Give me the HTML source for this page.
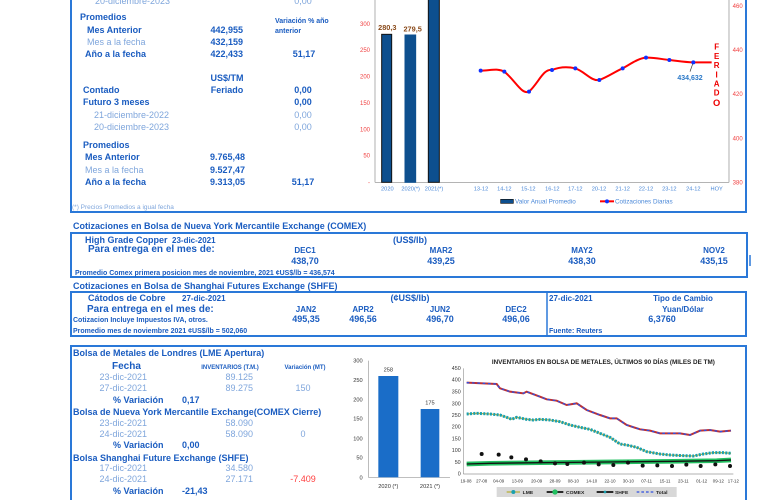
<!DOCTYPE html>
<html><head><meta charset="utf-8"><style>
html,body{margin:0;padding:0;background:#fff;}
svg{display:block;font-family:"Liberation Sans",sans-serif;}
.d{fill:#1a5cc0;font-weight:bold;font-size:9px;}
.l{fill:#7fa6dc;font-size:9px;}
.s{fill:#1a5cc0;font-size:7px;font-weight:bold;}
.m{text-anchor:middle}.e{text-anchor:end}
</style></head><body>
<svg width="780" height="500" viewBox="0 0 780 500" xmlns="http://www.w3.org/2000/svg">
<!-- top panel borders -->
<line x1="71" y1="0" x2="71" y2="212" stroke="#2a78d8" stroke-width="2"/>
<line x1="70" y1="212" x2="747" y2="212" stroke="#2a78d8" stroke-width="2"/>
<line x1="746" y1="0" x2="746" y2="212" stroke="#2a78d8" stroke-width="2"/>
<!-- left text -->
<text class="l" x="95" y="4">20-diciembre-2023</text><text class="l m" x="303" y="4">0,00</text>
<text class="d" x="80" y="20">Promedios</text>
<text class="d" x="87" y="33">Mes Anterior</text><text class="d e" x="243" y="33">442,955</text>
<text class="s" x="275" y="23">Variación % año</text><text class="s" x="275" y="33">anterior</text>
<text class="l" x="87" y="45">Mes a la fecha</text><text class="d e" x="243" y="45">432,159</text>
<text class="d" x="85" y="57">Año a la fecha</text><text class="d e" x="243" y="57">422,433</text><text class="d m" x="304" y="57">51,17</text>
<text class="d m" x="227" y="81">US$/TM</text>
<text class="d" x="83" y="93">Contado</text><text class="d m" x="227" y="93">Feriado</text><text class="d m" x="303" y="93">0,00</text>
<text class="d" x="83" y="105">Futuro 3 meses</text><text class="d m" x="303" y="105">0,00</text>
<text class="l" x="94" y="118">21-diciembre-2022</text><text class="l m" x="303" y="118">0,00</text>
<text class="l" x="94" y="130">20-diciembre-2023</text><text class="l m" x="303" y="130">0,00</text>
<text class="d" x="83" y="148">Promedios</text>
<text class="d" x="85" y="160">Mes Anterior</text><text class="d e" x="245" y="160">9.765,48</text>
<text class="l" x="85" y="173">Mes a la fecha</text><text class="d e" x="245" y="173">9.527,47</text>
<text class="d" x="85" y="185">Año a la fecha</text><text class="d e" x="245" y="185">9.313,05</text><text class="d m" x="303" y="185">51,17</text>
<text x="72" y="209" style="fill:#7fa6dc;font-size:6.5px">(*) Precios Promedios a igual  fecha</text>

<!-- top chart (zoom coords) -->
<g transform="translate(350,0) scale(0.33333)">
<line x1="75" y1="0" x2="75" y2="547" stroke="#888" stroke-width="2"/>
<line x1="1137" y1="0" x2="1137" y2="547" stroke="#888" stroke-width="2"/>
<line x1="75" y1="547" x2="1137" y2="547" stroke="#888" stroke-width="2"/>
<g style="fill:#f04040;font-size:18px" text-anchor="end">
<text x="60" y="78">300</text><text x="60" y="156">250</text><text x="60" y="235">200</text><text x="60" y="315">150</text><text x="60" y="394">100</text><text x="60" y="473">50</text><text x="60" y="553">-</text></g>
<g style="fill:#f04040;font-size:18px">
<text x="1148" y="24">460</text><text x="1148" y="156">440</text><text x="1148" y="288">420</text><text x="1148" y="421">400</text><text x="1148" y="553">380</text></g>
<rect x="95" y="103" width="30" height="444" fill="#0d4f8e" stroke="#111" stroke-width="3"/>
<rect x="165" y="105" width="32" height="442" fill="#0d4f8e" stroke="#0d4f8e" stroke-width="3"/>
<rect x="235" y="-5" width="33" height="552" fill="#0d4f8e" stroke="#111" stroke-width="3"/>
<text x="112" y="90" style="fill:#8a4a1a;font-size:22px;font-weight:bold" text-anchor="middle">280,3</text>
<text x="188" y="94" style="fill:#8a4a1a;font-size:22px;font-weight:bold" text-anchor="middle">279,5</text>
<path d="M392,212 C430,210 445,205 463,215 C495,240 515,285 537,275 C565,250 580,205 606,210 C630,200 655,200 676,205 C705,215 725,245 748,240 C775,230 795,215 818,205 C845,190 865,175 888,173 C915,172 935,178 958,180 C985,183 1005,187 1030,187 L1085,187" fill="none" stroke="#ff0000" stroke-width="6"/>
<g fill="#1030ff">
<circle cx="392" cy="212" r="6"/><circle cx="463" cy="215" r="6"/><circle cx="537" cy="275" r="6"/><circle cx="606" cy="210" r="6"/><circle cx="676" cy="205" r="6"/><circle cx="748" cy="240" r="6"/><circle cx="818" cy="205" r="6"/><circle cx="888" cy="173" r="6"/><circle cx="958" cy="180" r="6"/><circle cx="1030" cy="187" r="6"/></g>
<line x1="1028" y1="192" x2="1020" y2="215" stroke="#333" stroke-width="2"/>
<text x="1020" y="240" style="fill:#2a78c8;font-size:21px;font-weight:bold" text-anchor="middle">434,632</text>
<g style="fill:#ee0000;font-size:24px;font-weight:bold" text-anchor="middle">
<text x="1100" y="148">F</text><text x="1100" y="177">E</text><text x="1100" y="204">R</text><text x="1100" y="232">I</text><text x="1100" y="259">A</text><text x="1100" y="286">D</text><text x="1100" y="318" style="font-size:28px">O</text></g>
<g style="fill:#4a88d8;font-size:17px" text-anchor="middle">
<text x="112" y="572">2020</text><text x="182" y="572">2020(*)</text><text x="252" y="572">2021(*)</text>
<text x="393" y="572">13-12</text><text x="463" y="572">14-12</text><text x="535" y="572">15-12</text><text x="607" y="572">16-12</text><text x="676" y="572">17-12</text><text x="747" y="572">20-12</text><text x="818" y="572">21-12</text><text x="888" y="572">22-12</text><text x="958" y="572">23-12</text><text x="1030" y="572">24-12</text><text x="1100" y="572">HOY</text></g>
<rect x="452" y="598" width="38" height="12" fill="#0d4f8e" stroke="#111" stroke-width="2"/>
<text x="495" y="610" style="fill:#4a88d8;font-size:19px">Valor Anual Promedio</text>
<line x1="750" y1="604" x2="792" y2="604" stroke="#ff0000" stroke-width="6"/><circle cx="771" cy="604" r="6" fill="#1030ff"/>
<text x="795" y="610" style="fill:#4a88d8;font-size:19px">Cotizaciones Diarias</text>
</g>

<!-- COMEX -->
<text class="d" x="73" y="229">Cotizaciones en Bolsa de Nueva York Mercantile Exchange (COMEX)</text>
<rect x="71" y="233" width="676" height="44" fill="none" stroke="#2a78d8" stroke-width="2"/>
<text class="d" x="85" y="243">High Grade Copper</text><text class="s" x="172" y="243" style="font-size:8px">23-dic-2021</text>
<text class="d m" x="410" y="243">(US$/lb)</text>
<text class="d" x="88" y="252" style="font-size:10px">Para entrega en el mes de:</text>
<g class="s" text-anchor="middle" style="font-size:8px"><text x="305" y="253">DEC1</text><text x="441" y="253">MAR2</text><text x="582" y="253">MAY2</text><text x="714" y="253">NOV2</text></g>
<g class="d" text-anchor="middle"><text x="305" y="264">438,70</text><text x="441" y="264">439,25</text><text x="582" y="264">438,30</text><text x="714" y="264">435,15</text></g>
<line x1="750" y1="255" x2="750" y2="266" stroke="#2a78d8" stroke-width="1.5"/>
<text class="s" x="75" y="275">Promedio Comex primera posicion mes de noviembre, 2021 ¢US$/lb = 436,574</text>

<!-- SHFE -->
<text class="d" x="73" y="289">Cotizaciones en Bolsa de Shanghai Futures Exchange (SHFE)</text>
<rect x="71" y="292" width="675" height="44" fill="none" stroke="#2a78d8" stroke-width="2"/>
<line x1="547" y1="292" x2="547" y2="336" stroke="#2a78d8" stroke-width="1.5"/>
<text class="d" x="88" y="301">Cátodos de Cobre</text><text class="s" x="182" y="301" style="font-size:8px">27-dic-2021</text>
<text class="d m" x="410" y="301">(¢US$/lb)</text>
<text class="s" x="549" y="301" style="font-size:8px">27-dic-2021</text><text class="s m" x="683" y="301" style="font-size:8px">Tipo de Cambio</text>
<text class="d" x="87" y="312" style="font-size:10px">Para entrega en el mes de:</text>
<g class="s" text-anchor="middle" style="font-size:8px"><text x="306" y="312">JAN2</text><text x="363" y="312">APR2</text><text x="440" y="312">JUN2</text><text x="516" y="312">DEC2</text><text x="683" y="312">Yuan/Dólar</text></g>
<text class="s" x="73" y="322">Cotizacion Incluye Impuestos IVA, otros.</text>
<g class="d" text-anchor="middle"><text x="306" y="322">495,35</text><text x="363" y="322">496,56</text><text x="440" y="322">496,70</text><text x="516" y="322">496,06</text><text x="662" y="322">6,3760</text></g>
<text class="s" x="73" y="333">Promedio mes de noviembre 2021 ¢US$/lb = 502,060</text>
<text class="s" x="549" y="333">Fuente: Reuters</text>

<!-- bottom -->
<line x1="71" y1="346" x2="71" y2="500" stroke="#2a78d8" stroke-width="2"/>
<line x1="70" y1="346" x2="747" y2="346" stroke="#2a78d8" stroke-width="2"/>
<line x1="746" y1="346" x2="746" y2="500" stroke="#2a78d8" stroke-width="2"/>
<text class="d" x="73" y="356">Bolsa de Metales de Londres (LME Apertura)</text>
<text class="d" x="112" y="369" style="font-size:10px">Fecha</text>
<text class="s m" x="230" y="369" style="font-size:6px">INVENTARIOS (T.M.)</text><text class="s m" x="305" y="369" style="font-size:6px">Variación (MT)</text>
<text class="l e" x="147" y="380">23-dic-2021</text><text class="l e" x="253" y="380">89.125</text>
<text class="l e" x="147" y="391">27-dic-2021</text><text class="l e" x="253" y="391">89.275</text><text class="l m" x="303" y="391">150</text>
<text class="d" x="113" y="403">% Variación</text><text class="d" x="182" y="403">0,17</text>
<text class="d" x="73" y="415">Bolsa de Nueva York Mercantile Exchange(COMEX Cierre)</text>
<text class="l e" x="147" y="426">23-dic-2021</text><text class="l e" x="253" y="426">58.090</text>
<text class="l e" x="147" y="437">24-dic-2021</text><text class="l e" x="253" y="437">58.090</text><text class="l m" x="303" y="437">0</text>
<text class="d" x="113" y="448">% Variación</text><text class="d" x="182" y="448">0,00</text>
<text class="d" x="73" y="461">Bolsa Shanghai Future Exchange (SHFE)</text>
<text class="l e" x="147" y="471">17-dic-2021</text><text class="l e" x="253" y="471">34.580</text>
<text class="l e" x="147" y="482">24-dic-2021</text><text class="l e" x="253" y="482">27.171</text><text x="303" y="482" text-anchor="middle" style="fill:#ff4040;font-size:9px">-7.409</text>
<text class="d" x="113" y="494">% Variación</text><text class="d" x="182" y="494">-21,43</text>

<!-- small bar chart -->
<g transform="translate(0,340) scale(0.33333)">
<line x1="1105" y1="62" x2="1105" y2="412" stroke="#999" stroke-width="2"/>
<line x1="1105" y1="412" x2="1350" y2="412" stroke="#999" stroke-width="2"/>
<g style="fill:#333;font-size:17px" text-anchor="end"><text x="1088" y="68">300</text><text x="1088" y="126">250</text><text x="1088" y="184">200</text><text x="1088" y="242">150</text><text x="1088" y="301">100</text><text x="1088" y="359">50</text><text x="1088" y="418">0</text></g>
<rect x="1135" y="108" width="60" height="304" fill="#1a6dc8"/>
<rect x="1262" y="207" width="56" height="205" fill="#1a6dc8"/>
<g style="fill:#333;font-size:17px" text-anchor="middle"><text x="1165" y="94">258</text><text x="1290" y="193">175</text><text x="1165" y="444">2020 (*)</text><text x="1290" y="444">2021 (*)</text></g>
</g>

<!-- inventory chart -->
<g transform="translate(440,340) scale(0.33333)">
<text x="490" y="72" text-anchor="middle" style="fill:#222;font-size:19px;font-weight:bold">INVENTARIOS EN BOLSA DE METALES, ÚLTIMOS 90 DÍAS (MILES DE TM)</text>
<line x1="70" y1="85" x2="70" y2="402" stroke="#999" stroke-width="2"/>
<line x1="70" y1="402" x2="880" y2="402" stroke="#999" stroke-width="2"/>
<g style="fill:#333;font-size:16px" text-anchor="end"><text x="62" y="90">450</text><text x="62" y="125">400</text><text x="62" y="160">350</text><text x="62" y="196">300</text><text x="62" y="231">250</text><text x="62" y="266">200</text><text x="62" y="301">150</text><text x="62" y="336">100</text><text x="62" y="372">50</text><text x="62" y="407">0</text></g>
<g style="fill:#333;font-size:13px" text-anchor="middle"><text x="78" y="428">19-08</text><text x="125" y="428">27-08</text><text x="176" y="428">04-09</text><text x="232" y="428">13-09</text><text x="290" y="428">20-09</text><text x="345" y="428">28-09</text><text x="400" y="428">08-10</text><text x="455" y="428">14-10</text><text x="510" y="428">22-10</text><text x="565" y="428">30-10</text><text x="620" y="428">07-11</text><text x="675" y="428">15-11</text><text x="730" y="428">23-11</text><text x="785" y="428">01-12</text><text x="835" y="428">09-12</text><text x="880" y="428">17-12</text></g>
<polyline points="80,372 150,370 300,368 500,366 700,364 830,362 873,360" fill="none" stroke="#22c060" stroke-width="14"/>
<polyline points="80,372 150,370 300,368 500,366 700,364 830,362 873,360" fill="none" stroke="#111" stroke-width="4"/>
<polyline points="80,222 110,220 150,222 180,225 200,232 215,238 230,232 260,238 280,240 300,238 330,240 360,245 390,255 420,262 450,268 480,280 510,292 540,312 560,315 590,322 620,335 660,342 690,345 730,347 760,348 790,342 820,338 850,338 873,340" fill="none" stroke="#b8b040" stroke-width="4"/>
<polyline points="80,222 110,220 150,222 180,225 200,232 215,238 230,232 260,238 280,240 300,238 330,240 360,245 390,255 420,262 450,268 480,280 510,292 540,312 560,315 590,322 620,335 660,342 690,345 730,347 760,348 790,342 820,338 850,338 873,340" fill="none" stroke="#1aa0b0" stroke-width="9" stroke-dasharray="6 4"/>
<polyline points="80,128 130,130 170,132 180,145 210,155 250,160 260,155 300,170 320,178 350,182 380,195 410,190 440,210 480,225 510,235 530,235 560,255 600,268 630,272 660,280 690,280 720,280 750,285 780,272 810,270 840,275 873,272" fill="none" stroke="#c03030" stroke-width="6"/>
<polyline points="80,128 130,130 170,132 180,145 210,155 250,160 260,155 300,170 320,178 350,182 380,195 410,190 440,210 480,225 510,235 530,235 560,255 600,268 630,272 660,280 690,280 720,280 750,285 780,272 810,270 840,275 873,272" fill="none" stroke="#3050e0" stroke-width="4" stroke-dasharray="8 8"/>
<g fill="#111"><circle cx="125" cy="342" r="6"/><circle cx="176" cy="344" r="6"/><circle cx="214" cy="352" r="6"/><circle cx="258" cy="358" r="6"/><circle cx="302" cy="364" r="6"/><circle cx="345" cy="370" r="6"/><circle cx="382" cy="372" r="6"/><circle cx="432" cy="368" r="6"/><circle cx="476" cy="373" r="6"/><circle cx="520" cy="375" r="6"/><circle cx="564" cy="368" r="6"/><circle cx="608" cy="377" r="6"/><circle cx="652" cy="376" r="6"/><circle cx="696" cy="378" r="6"/><circle cx="739" cy="374" r="6"/><circle cx="782" cy="378" r="6"/><circle cx="826" cy="373" r="6"/><circle cx="870" cy="378" r="6"/></g>
<rect x="170" y="441" width="540" height="30" fill="#d8d8d8"/>
<line x1="200" y1="456" x2="240" y2="456" stroke="#b8b040" stroke-width="4"/><circle cx="220" cy="456" r="6" fill="#1aa0b0"/>
<text x="248" y="462" style="fill:#222;font-size:15px;font-weight:bold">LME</text>
<line x1="320" y1="456" x2="370" y2="456" stroke="#111" stroke-width="5"/><circle cx="345" cy="456" r="8" fill="#22c060"/>
<text x="378" y="462" style="fill:#222;font-size:15px;font-weight:bold">COMEX</text>
<line x1="470" y1="456" x2="520" y2="456" stroke="#111" stroke-width="5"/><circle cx="495" cy="456" r="4" fill="#1aa0b0"/>
<text x="525" y="462" style="fill:#222;font-size:15px;font-weight:bold">SHFE</text>
<line x1="590" y1="456" x2="640" y2="456" stroke="#3050e0" stroke-width="4" stroke-dasharray="8 6"/>
<text x="648" y="462" style="fill:#222;font-size:15px;font-weight:bold">Total</text>
</g>
</svg>
</body></html>
